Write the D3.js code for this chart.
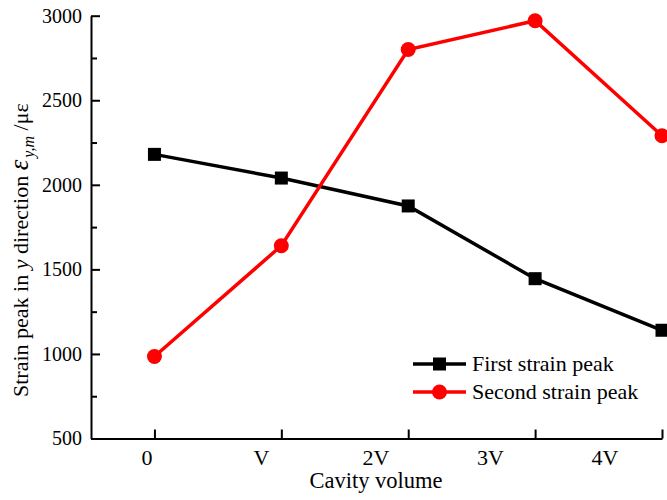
<!DOCTYPE html>
<html>
<head>
<meta charset="utf-8">
<script src="https://cdn.jsdelivr.net/npm/d3@7"></script>
<style>
    body { margin: 0; background: #fff; }
    #chart { width: 667px; height: 500px; }
    text { font-family: "Liberation Serif", "Times New Roman", serif; fill: #000; }
</style>
</head>
<body>
<div id="chart"></div>
<script>
//Datos
const categories = ['0', 'V', '2V', '3V', '4V'];
const firstPeak = [2180, 2040, 1875, 1445, 1140];
const secondPeak = [985, 1640, 2800, 2970, 2290];
const yTicks = [500, 1000, 1500, 2000, 2500, 3000];
const yMinorTicks = [750, 1250, 1750, 2250, 2750];
const seriesNames = ['First strain peak', 'Second strain peak'];

//Colores
const COLOR_FIRST = '#000000',
COLOR_SECOND = '#FF0000';

let width = 667, height = 500;
let margin = {top: 15.7, right: 5, bottom: 61.5, left: 91};

let svg = d3.select("#chart")
    .append("svg")
        .attr("width", width)
        .attr("height", height);

let x = d3.scaleLinear()
    .domain([-0.5, categories.length - 1])
    .range([margin.left, width - margin.right]);

//Etiquetas del eje X (no coinciden con las marcas en el original)
let xLabel = d3.scaleLinear()
    .domain([0, categories.length - 1])
    .range([147, 605]);

let y = d3.scaleLinear()
    .domain([500, 3000])
    .range([height - margin.bottom, margin.top]);

// Eje Y
let yAxis = svg.append("g")
    .attr("transform", "translate(" + margin.left + ",0)")
    .call(d3.axisLeft(y)
        .tickValues(yTicks)
        .tickSizeInner(-9)
        .tickSizeOuter(0)
        .tickPadding(9)
        .tickFormat(d3.format('d')));

svg.append("g")
    .attr("transform", "translate(" + margin.left + ",0)")
    .call(d3.axisLeft(y)
        .tickValues(yMinorTicks)
        .tickSizeInner(-6)
        .tickSizeOuter(0)
        .tickFormat(''))
    .call(g => g.select(".domain").remove());

// Eje X
let xAxis = svg.append("g")
    .attr("transform", "translate(0," + (height - margin.bottom) + ")")
    .call(d3.axisBottom(x)
        .tickValues(d3.range(categories.length))
        .tickSizeInner(-9)
        .tickSizeOuter(0)
        .tickFormat(''));

svg.selectAll(".domain, .tick line")
    .attr("stroke", "#000")
    .attr("stroke-width", 2);

yAxis.selectAll("text")
    .style("font-size", "20px")
    .style("font-family", '"Liberation Serif", "Times New Roman", serif');

svg.append("g")
    .selectAll("text")
    .data(categories)
    .enter()
    .append("text")
        .attr("x", (d, i) => xLabel(i))
        .attr("y", 465)
        .attr("text-anchor", "middle")
        .style("font-size", "22px")
        .text(d => d);

// Títulos de ejes
svg.append("text")
    .attr("x", 376)
    .attr("y", 488)
    .attr("text-anchor", "middle")
    .style("font-size", "22.5px")
    .text("Cavity volume");

let yTitle = svg.append("text")
    .attr("transform", "translate(28,397) rotate(-90)")
    .attr("text-anchor", "start")
    .style("font-size", "22px");
yTitle.append("tspan").text("Strain peak in ");
yTitle.append("tspan").style("font-style", "italic").text("y");
yTitle.append("tspan").text(" direction ");
yTitle.append("tspan").style("font-style", "italic").style("font-size", "27px").text("ε");
yTitle.append("tspan").attr("dx", 2).attr("dy", 6).style("font-style", "italic").style("font-size", "16px").text("y,m");
yTitle.append("tspan").attr("dy", -6).text(" /με");

// Líneas
let line = d3.line()
    .x((d, i) => x(i))
    .y(d => y(d));

svg.append("path")
    .datum(firstPeak)
    .attr("fill", "none")
    .attr("stroke", COLOR_FIRST)
    .attr("stroke-width", 3.5)
    .attr("d", line);

svg.selectAll(".sq")
    .data(firstPeak)
    .enter()
    .append("rect")
        .attr("class", "sq")
        .attr("x", (d, i) => x(i) - 6.5)
        .attr("y", d => y(d) - 6.5)
        .attr("width", 13)
        .attr("height", 13)
        .attr("fill", COLOR_FIRST);

svg.append("path")
    .datum(secondPeak)
    .attr("fill", "none")
    .attr("stroke", COLOR_SECOND)
    .attr("stroke-width", 3.5)
    .attr("d", line);

svg.selectAll(".dot")
    .data(secondPeak)
    .enter()
    .append("circle")
        .attr("class", "dot")
        .attr("cx", (d, i) => x(i))
        .attr("cy", d => y(d))
        .attr("r", 7.5)
        .attr("fill", COLOR_SECOND);

// Leyenda
let legend = svg.append("g")
    .attr("transform", "translate(413,364)");

let legendItems = legend.selectAll("g")
    .data(seriesNames)
    .enter()
    .append("g")
        .attr("transform", (d, i) => "translate(0," + i * 28 + ")");

legendItems.append("line")
    .attr("x1", 0)
    .attr("x2", 53)
    .attr("stroke", (d, i) => i == 0 ? COLOR_FIRST : COLOR_SECOND)
    .attr("stroke-width", 3.5);

legendItems.filter((d, i) => i == 0)
    .append("rect")
        .attr("x", 20)
        .attr("y", -6.5)
        .attr("width", 13)
        .attr("height", 13)
        .attr("fill", COLOR_FIRST);

legendItems.filter((d, i) => i == 1)
    .append("circle")
        .attr("cx", 26.5)
        .attr("r", 7.5)
        .attr("fill", COLOR_SECOND);

legendItems.append("text")
    .attr("x", 59)
    .attr("y", 7)
    .style("font-size", "22px")
    .text(d => d);
</script>
</body>
</html>
